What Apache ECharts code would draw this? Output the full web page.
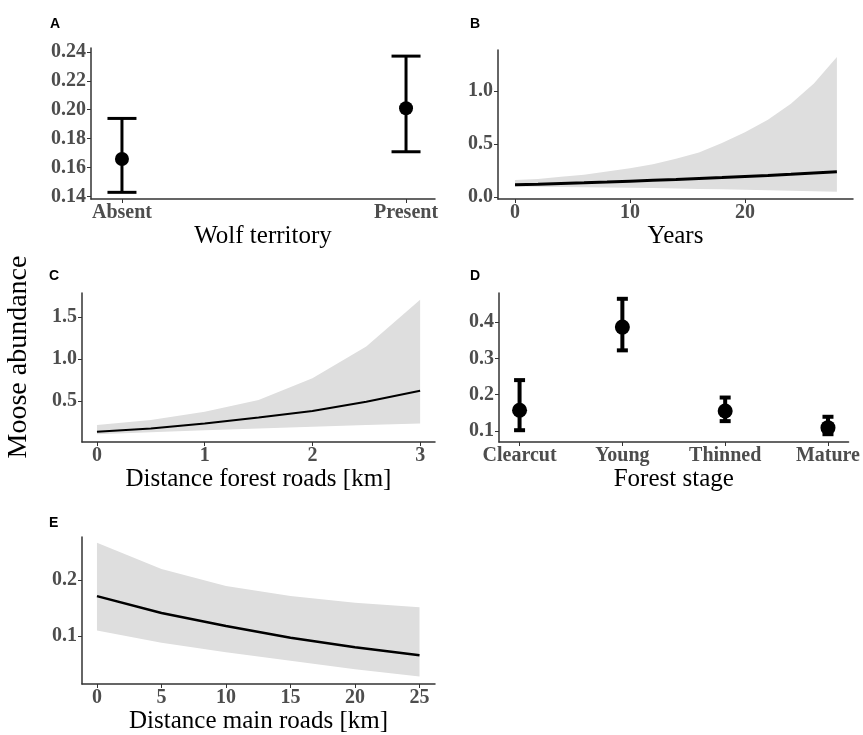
<!DOCTYPE html>
<html lang="en">

<head>
    <meta charset="UTF-8">
    <title>Moose abundance</title>
    <script src="https://cdn.jsdelivr.net/npm/echarts@6/dist/echarts.min.js"></script>
    <style>
        * {
            margin: 0;
            padding: 0;
        }

        #main {
            width: 863px;
            height: 735px;
            background-color: #fff;
        }
    </style>
</head>

<body>
    <div id="main"></div>
    <script>
        // A - wolf territory
        const wolfCats = ['Absent', 'Present'];
        const wolfMean = [0.166, 0.201];
        const wolfLow = [0.143, 0.171];
        const wolfHigh = [0.194, 0.237];
        const wolfTicks = [0.14, 0.16, 0.18, 0.20, 0.22, 0.24];

        // B - years
        const years = [0, 2, 4, 6, 8, 10, 12, 14, 16, 18, 20, 22, 24, 26, 28];
        const yearsMean = [0.115, 0.121, 0.128, 0.134, 0.141, 0.149, 0.157, 0.165, 0.174, 0.183, 0.193, 0.203, 0.214, 0.226, 0.238];
        const yearsLow = [0.098, 0.097, 0.095, 0.093, 0.090, 0.087, 0.084, 0.080, 0.076, 0.072, 0.068, 0.064, 0.060, 0.055, 0.050];
        const yearsHigh = [0.16, 0.17, 0.19, 0.21, 0.24, 0.27, 0.31, 0.36, 0.42, 0.51, 0.61, 0.73, 0.88, 1.07, 1.32];
        const yearsXTicks = [0, 10, 20];
        const yearsYTicks = [0.0, 0.5, 1.0];

        // C - distance forest roads
        const forestKm = [0, 0.5, 1, 1.5, 2, 2.5, 3];
        const forestMean = [0.13, 0.17, 0.23, 0.30, 0.38, 0.49, 0.62];
        const forestLow = [0.10, 0.125, 0.15, 0.17, 0.19, 0.21, 0.23];
        const forestHigh = [0.21, 0.27, 0.37, 0.51, 0.77, 1.15, 1.71];
        const forestXTicks = [0, 1, 2, 3];
        const forestYTicks = [0.5, 1.0, 1.5];

        // D - forest stage
        const stageCats = ['Clearcut', 'Young', 'Thinned', 'Mature'];
        const stageMean = [0.157, 0.386, 0.155, 0.109];
        const stageLow = [0.102, 0.322, 0.127, 0.091];
        const stageHigh = [0.240, 0.464, 0.192, 0.139];
        const stageTicks = [0.1, 0.2, 0.3, 0.4];

        // E - distance main roads
        const mainKm = [0, 5, 10, 15, 20, 25];
        const mainMean = [0.171, 0.141, 0.118, 0.097, 0.080, 0.066];
        const mainLow = [0.110, 0.088, 0.071, 0.056, 0.041, 0.028];
        const mainHigh = [0.266, 0.219, 0.189, 0.171, 0.159, 0.151];
        const mainXTicks = [0, 5, 10, 15, 20, 25];
        const mainYTicks = [0.1, 0.2];

        const serif = '"Liberation Serif", "DejaVu Serif", serif';
        const tickFont = { color: '#4d4d4d', fontFamily: serif, fontWeight: 'bold', fontSize: 20 };

        function axis(grid, min, max, ticks, fmt, isX, name) {
            return {
                type: 'value',
                gridIndex: grid,
                min: min,
                max: max,
                splitLine: { show: false },
                axisLine: { show: true, onZero: false, lineStyle: { color: '#333', width: 1.5 } },
                axisTick: { show: true, length: 4, customValues: ticks, lineStyle: { color: '#333', width: 1 } },
                axisLabel: Object.assign({ customValues: ticks, formatter: fmt, margin: isX ? 4 : 5 }, tickFont),
                name: name || '',
                nameLocation: 'middle',
                nameGap: 25,
                nameTextStyle: { color: '#000', fontFamily: serif, fontSize: 25 }
            };
        }

        function ribbon(idx, xs, lo, hi) {
            return {
                type: 'custom',
                xAxisIndex: idx,
                yAxisIndex: idx,
                silent: true,
                z: 1,
                data: [[xs[0], lo[0]]],
                renderItem(params, api) {
                    let pts = [];
                    for (let i = 0; i < xs.length; i++) pts.push(api.coord([xs[i], hi[i]]));
                    for (let i = xs.length - 1; i >= 0; i--) pts.push(api.coord([xs[i], lo[i]]));
                    return { type: 'polygon', shape: { points: pts }, style: { fill: '#dedede' } };
                }
            };
        }

        function meanLine(idx, xs, ys, w) {
            return {
                type: 'line',
                xAxisIndex: idx,
                yAxisIndex: idx,
                z: 3,
                showSymbol: false,
                silent: true,
                lineStyle: { color: '#000', width: w },
                data: xs.map((x, i) => [x, ys[i]])
            };
        }

        function errBars(idx, lo, hi, cap, lw) {
            return {
                type: 'custom',
                xAxisIndex: idx,
                yAxisIndex: idx,
                z: 3,
                silent: true,
                data: lo.map((v, i) => [i, v, hi[i]]),
                renderItem(params, api) {
                    const a = api.coord([api.value(0), api.value(1)]);
                    const b = api.coord([api.value(0), api.value(2)]);
                    const st = { stroke: '#000', lineWidth: lw };
                    return {
                        type: 'group', children: [
                            { type: 'line', shape: { x1: a[0], y1: a[1], x2: b[0], y2: b[1] }, style: st },
                            { type: 'line', shape: { x1: a[0] - cap / 2, y1: a[1], x2: a[0] + cap / 2, y2: a[1] }, style: st },
                            { type: 'line', shape: { x1: b[0] - cap / 2, y1: b[1], x2: b[0] + cap / 2, y2: b[1] }, style: st }
                        ]
                    };
                }
            };
        }

        function points(idx, ys, size) {
            return {
                type: 'scatter',
                xAxisIndex: idx,
                yAxisIndex: idx,
                z: 4,
                symbolSize: size,
                itemStyle: { color: '#000', opacity: 1 },
                data: ys.map((v, i) => [i, v])
            };
        }

        const f2 = v => v.toFixed(2);
        const f1 = v => v.toFixed(1);
        const f0 = v => String(v);

        var myChart = echarts.init(document.getElementById('main'));
        var option = {
            backgroundColor: '#fff',
            animation: false,
            grid: [
                { left: 91, top: 48, width: 344, height: 151 },
                { left: 498, top: 50, width: 355, height: 149 },
                { left: 82, top: 293, width: 353, height: 149 },
                { left: 499, top: 293, width: 354, height: 149 },
                { left: 82, top: 537, width: 353, height: 148 }
            ],
            xAxis: [
                axis(0, -0.109, 1.102, [0, 1], v => wolfCats[v], true, 'Wolf territory'),
                axis(1, -1.48, 29.4, yearsXTicks, f0, true, 'Years'),
                axis(2, -0.139, 3.138, forestXTicks, f0, true, 'Distance forest roads [km]'),
                axis(3, -0.2, 3.2, [0, 1, 2, 3], v => stageCats[v], true, 'Forest stage'),
                axis(4, -1.16, 26.2, mainXTicks, f0, true, 'Distance main roads [km]')
            ],
            yAxis: [
                axis(0, 0.1384, 0.2426, wolfTicks, f2, false),
                axis(1, -0.019, 1.387, yearsYTicks, f1, false),
                axis(2, 0.008, 1.79, forestYTicks, f1, false),
                axis(3, 0.0695, 0.480, stageTicks, f1, false),
                axis(4, 0.0148, 0.276, mainYTicks, f1, false)
            ],
            graphic: [
                { type: 'text', x: 50, y: 17, style: { text: 'A', font: 'bold 14px "Liberation Sans"', fill: '#000' } },
                { type: 'text', x: 470, y: 17, style: { text: 'B', font: 'bold 14px "Liberation Sans"', fill: '#000' } },
                { type: 'text', x: 49, y: 269, style: { text: 'C', font: 'bold 14px "Liberation Sans"', fill: '#000' } },
                { type: 'text', x: 470, y: 269, style: { text: 'D', font: 'bold 14px "Liberation Sans"', fill: '#000' } },
                { type: 'text', x: 49, y: 516, style: { text: 'E', font: 'bold 14px "Liberation Sans"', fill: '#000' } },
                {
                    type: 'text', x: 19, y: 357, rotation: Math.PI / 2,
                    style: { text: 'Moose abundance', font: '28px ' + serif, fill: '#000', align: 'center', verticalAlign: 'middle' }
                }
            ],
            series: [
                errBars(0, wolfLow, wolfHigh, 29, 3),
                points(0, wolfMean, 14),
                ribbon(1, years, yearsLow, yearsHigh),
                meanLine(1, years, yearsMean, 3),
                ribbon(2, forestKm, forestLow, forestHigh),
                meanLine(2, forestKm, forestMean, 2),
                errBars(3, stageLow, stageHigh, 11, 4),
                points(3, stageMean, 15),
                ribbon(4, mainKm, mainLow, mainHigh),
                meanLine(4, mainKm, mainMean, 2.5)
            ]
        };

        option && myChart.setOption(option);
    </script>
</body>

</html>
